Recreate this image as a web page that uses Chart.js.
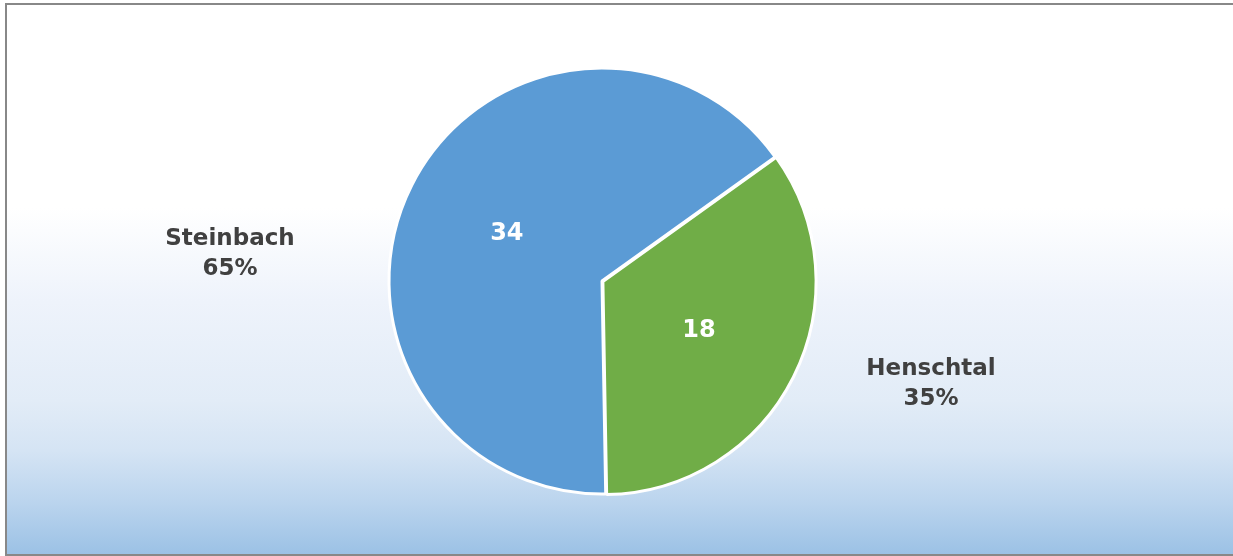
<!DOCTYPE html>
<html>
<head>
<meta charset="utf-8">
<script src="https://cdn.jsdelivr.net/npm/chart.js@4/dist/chart.umd.min.js"></script>
<style>
  html, body { margin: 0; padding: 0; background: #ffffff; }
  #wrap { width: 1233px; height: 556px; position: relative; }
</style>
</head>
<body>
<div id="wrap"><canvas id="c" width="1233" height="556"></canvas></div>
<script>
// Anzahl nach Ort
const categories = ['Steinbach', 'Henschtal'];
const values = [34, 18];
const sliceColors = ['#5B9BD5', '#70AD47'];

const FONT = '"DejaVu Sans"';

// Frame with a white-to-blue vertical gradient behind the chart
const backgroundPlugin = {
  id: 'frameBackground',
  beforeDraw(chart) {
    const ctx = chart.ctx;
    const w = chart.width, h = chart.height;
    ctx.save();
    ctx.fillStyle = '#ffffff';
    ctx.fillRect(0, 0, w, h);
    const g = ctx.createLinearGradient(0, 4, 0, 555);
    g.addColorStop(0, '#ffffff');
    g.addColorStop(0.37, '#ffffff');
    g.addColorStop(0.54, '#eef3fb');
    g.addColorStop(0.72, '#e2ecf7');
    g.addColorStop(0.81, '#d5e4f4');
    g.addColorStop(0.9, '#bcd5ee');
    g.addColorStop(1, '#9bc1e5');
    ctx.fillStyle = g;
    ctx.fillRect(6, 4, w, 551);
    // frame edges: left, top, bottom (right edge runs past the canvas)
    ctx.fillStyle = '#888888';
    ctx.fillRect(5, 3, 2, 553);
    ctx.fillRect(5, 3, w, 2);
    ctx.fillRect(5, 554, w, 2);
    ctx.restore();
  }
};

// Value labels inside the slices and category/percent labels outside
const labelPlugin = {
  id: 'sliceLabels',
  afterDatasetsDraw(chart, args, opts) {
    const ctx = chart.ctx;
    const meta = chart.getDatasetMeta(0);
    const data = chart.data.datasets[0].data;
    const total = data.reduce((a, b) => a + b, 0);
    ctx.save();
    ctx.textAlign = 'center';
    ctx.textBaseline = 'middle';
    meta.data.forEach((arc, i) => {
      const p = arc.tooltipPosition();
      ctx.font = 'bold 24px ' + FONT;
      ctx.fillStyle = '#ffffff';
      ctx.fillText(String(data[i]), p.x, p.y + 1);

      const off = opts.outside[i];
      const cx = arc.x, cy = arc.y;
      const lx = cx + off[0], ly = cy + off[1];
      const pct = Math.round(data[i] / total * 100) + '%';
      ctx.fillStyle = '#404040';
      ctx.font = 'bold 23px ' + FONT;
      ctx.fillText(chart.data.labels[i], lx, ly - 15);
      ctx.fillText(pct, lx, ly + 15);
    });
    ctx.restore();
  }
};

function draw() {
  new Chart(document.getElementById('c'), {
    type: 'pie',
    data: {
      labels: categories,
      datasets: [{
        data: values,
        backgroundColor: sliceColors,
        borderColor: '#ffffff',
        borderWidth: 3,
        offset: [0, 4],
        hoverOffset: 0
      }]
    },
    options: {
      responsive: false,
      animation: false,
      rotation: 179,
      radius: 213,
      layout: { padding: { left: 0, right: 29, top: 6, bottom: 0 } },
      plugins: {
        legend: { display: false },
        tooltip: { enabled: false },
        sliceLabels: { outside: [[-372, -27], [329, 103]] }
      }
    },
    plugins: [backgroundPlugin, labelPlugin]
  });
}

if (document.fonts && document.fonts.load) {
  document.fonts.load('bold 23px "DejaVu Sans"').then(draw, draw);
} else {
  draw();
}
</script>
</body>
</html>
